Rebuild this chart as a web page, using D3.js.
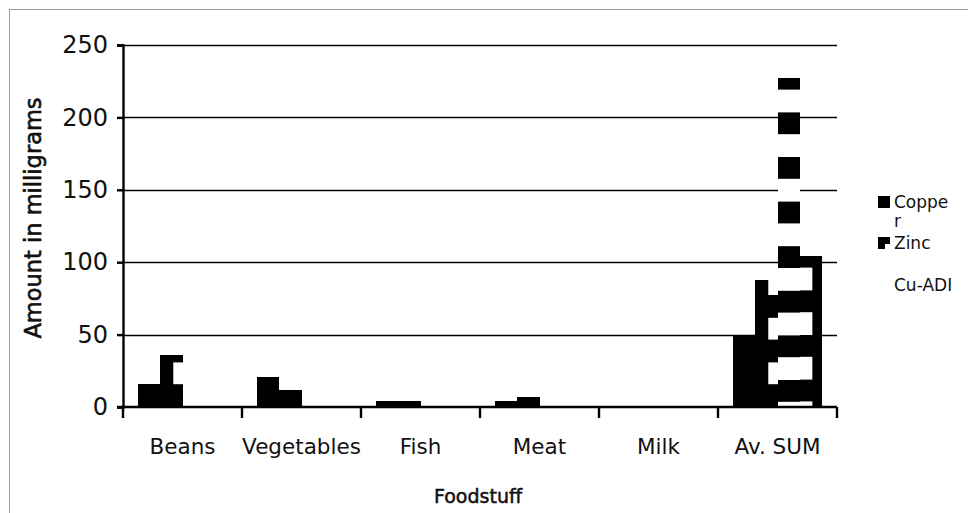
<!DOCTYPE html>
<html>
<head>
<meta charset="utf-8">
<script src="https://cdn.jsdelivr.net/npm/d3@7"></script>
<style>
  html, body { margin: 0; padding: 0; background: #fff; }
  svg { display: block; }
  text { font-family: "DejaVu Sans", Verdana, sans-serif; fill: #111; }
</style>
</head>
<body>
<svg id="chart" width="968" height="513"></svg>
<script>
// Mineral content per foodstuff (mg)
const categories = ["Beans", "Vegetables", "Fish", "Meat", "Milk", "Av. SUM"];
const seriesKeys = ["copper", "zinc", "cuAdi", "extra"];
const legendNames = ["Coppe\nr", "Zinc", "Cu-ADI"];
const copper = [16, 21, 4, 4, 0, 49];
const zinc   = [36, 12, 4, 7, 0, 88];
const cuAdi  = [0, 0, 0, 0, 0, 227];
const extra  = [0, 0, 0, 0, 0, 104];
const yTicks = [0, 50, 100, 150, 200, 250];

const values = { copper, zinc, cuAdi, extra };

const svg = d3.select("#chart");
const W = 968, H = 513;
const m = { left: 123, right: 131, top: 45, bottom: 106 };
const plotW = W - m.left - m.right;   // 714
const plotH = H - m.top - m.bottom;   // 362

// outer chart frame
svg.append("rect")
  .attr("x", 9.5).attr("y", 9.5)
  .attr("width", 960).attr("height", 520)
  .attr("fill", "#fff").attr("stroke", "#9a9a9a").attr("stroke-width", 1);

const x0 = d3.scaleBand().domain(categories).range([m.left, m.left + plotW]).padding(0);
const x1 = d3.scaleBand().domain(seriesKeys).range([0, x0.bandwidth()])
  .paddingInner(0).paddingOuter(0.7);
const y = d3.scaleLinear().domain([0, 250]).range([m.top + plotH, m.top]);

// coarse fill patterns, anchored to the plot grid
const cw = x1.bandwidth();
const ch = 22.3;
const ox = x0(categories[0]) + x1(seriesKeys[0]);
const defs = svg.append("defs");

function tile(id, oy, cells) {
  const p = defs.append("pattern").attr("id", id)
    .attr("patternUnits", "userSpaceOnUse")
    .attr("x", ox).attr("y", oy)
    .attr("width", cw * 2).attr("height", ch * 2);
  p.append("rect").attr("width", cw * 2).attr("height", ch * 2).attr("fill", "#fff");
  cells.forEach(([c, r]) => {
    p.append("rect").attr("x", c * cw).attr("y", r * ch)
      .attr("width", cw).attr("height", ch).attr("fill", "#000")
      .attr("shape-rendering", "crispEdges");
  });
}
const base = y(0);
tile("pat-zinc", base - ch * 2, [[1, 1], [0, 1], [1, 0]]);
tile("pat-cu", base - 27, [[0, 0], [1, 0]]);
tile("pat-extra", base - 72, [[0, 0], [1, 0], [0, 1]]);
const fills = {
  copper: "#000",
  zinc: "url(#pat-zinc)",
  cuAdi: "url(#pat-cu)",
  extra: "url(#pat-extra)"
};

// gridlines
svg.append("g").selectAll("line")
  .data(yTicks.filter(d => d > 0))
  .join("line")
  .attr("x1", m.left).attr("x2", m.left + plotW)
  .attr("y1", d => Math.round(y(d)) + 0.5).attr("y2", d => Math.round(y(d)) + 0.5)
  .attr("stroke", "#000").attr("stroke-width", 1.6);

// bars
const groups = svg.append("g").selectAll("g")
  .data(categories)
  .join("g")
  .attr("transform", d => `translate(${x0(d)},0)`);

groups.selectAll("rect")
  .data((d, i) => seriesKeys.map(k => ({ key: k, cat: d, v: values[k][i] })))
  .join("rect")
  .attr("x", d => x1(d.key))
  .attr("width", x1.bandwidth())
  .attr("y", d => y(d.v))
  .attr("height", d => y(0) - y(d.v))
  .attr("fill", d => fills[d.key])
  .attr("shape-rendering", "crispEdges");

// y axis
const yAxis = svg.append("g")
  .attr("transform", `translate(${m.left},0)`)
  .call(d3.axisLeft(y).tickValues(yTicks).tickSize(6).tickPadding(9));
yAxis.select(".domain").attr("stroke", "#000").attr("stroke-width", 2.4);
yAxis.selectAll(".tick line").attr("stroke", "#000").attr("stroke-width", 2.4);
yAxis.selectAll(".tick text")
  .attr("font-size", 24).attr("font-family", "DejaVu Sans, sans-serif").attr("fill", "#111");

// x axis with ticks at category boundaries
const xAxisG = svg.append("g").attr("transform", `translate(0,${y(0)})`);
xAxisG.append("line")
  .attr("x1", m.left - 6).attr("x2", m.left + plotW)
  .attr("stroke", "#000").attr("stroke-width", 2.6);
const bounds = categories.map(c => x0(c)).concat([m.left + plotW]);
xAxisG.selectAll("line.tk")
  .data(bounds)
  .join("line").attr("class", "tk")
  .attr("x1", d => d).attr("x2", d => d)
  .attr("y1", 0).attr("y2", 11)
  .attr("stroke", "#000").attr("stroke-width", 2.4);
xAxisG.selectAll("text")
  .data(categories)
  .join("text")
  .attr("x", d => x0(d) + x0.bandwidth() / 2)
  .attr("y", 47)
  .attr("text-anchor", "middle")
  .attr("font-size", 21.5)
  .text(d => d);

// axis titles
svg.append("text")
  .attr("x", 478).attr("y", 503)
  .attr("text-anchor", "middle")
  .attr("font-size", 19)
  .attr("stroke", "#111").attr("stroke-width", 0.5)
  .text("Foodstuff");
svg.append("text")
  .attr("transform", `translate(41,${m.top + 173}) rotate(-90)`)
  .attr("text-anchor", "middle")
  .attr("font-size", 22.5)
  .attr("stroke", "#111").attr("stroke-width", 0.6)
  .text("Amount in milligrams");

// small pattern for the zinc key
const lp = defs.append("pattern").attr("id", "pat-leg-zinc")
  .attr("patternUnits", "objectBoundingBox").attr("width", 1).attr("height", 1);
lp.append("rect").attr("width", 12).attr("height", 12).attr("fill", "#000");
lp.append("rect").attr("x", 7).attr("y", 7).attr("width", 5).attr("height", 5).attr("fill", "#fff");

// legend
const legendY = [208, 249, 291];
const lg = svg.append("g").selectAll("g")
  .data(legendNames)
  .join("g")
  .attr("transform", (d, i) => `translate(878,${legendY[i]})`);
lg.append("rect")
  .attr("x", 0).attr("y", -12)
  .attr("width", 12).attr("height", 12)
  .attr("fill", (d, i) => i === 0 ? "#000" : i === 1 ? "url(#pat-leg-zinc)" : "none");
lg.append("text")
  .attr("font-family", "Liberation Sans, Arial, sans-serif")
  .attr("font-size", 17)
  .each(function(d) {
    const lines = d.split("\n");
    d3.select(this).selectAll("tspan").data(lines).join("tspan")
      .attr("x", 16).attr("dy", (l, j) => j === 0 ? 0 : 19)
      .text(l => l);
  });
</script>
</body>
</html>
